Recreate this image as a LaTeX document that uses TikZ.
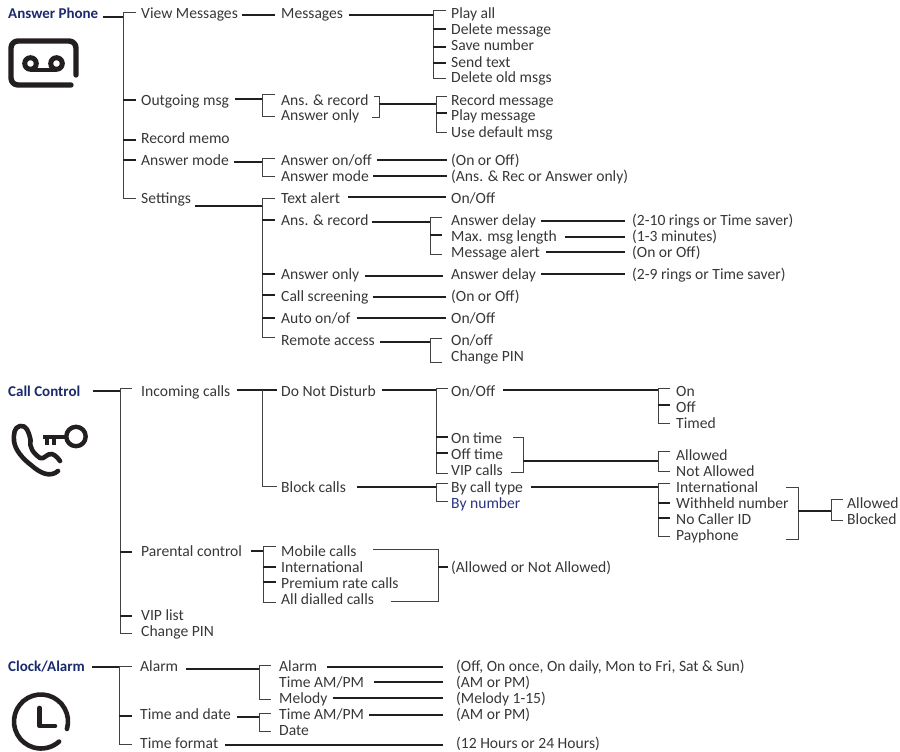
\documentclass[tikz,border=0pt]{standalone}
\usepackage{fontspec}
\setmainfont{Carlito}
\usetikzlibrary{calc}
\definecolor{navy}{HTML}{1B2A6E}
\definecolor{navyb}{HTML}{2B3483}
\definecolor{txt}{HTML}{37373A}
\definecolor{ink}{HTML}{231F20}
\tikzset{
  lbl/.style={anchor=base west,inner sep=0pt,text=txt,font=\fontsize{15.6}{16}\selectfont},
  ttl/.style={lbl,text=navy,font=\fontsize{15}{16}\selectfont\bfseries},
  br/.style={draw=ink,line width=1.5pt},
  tr/.style={draw=ink!85,line width=1pt},
  icon/.style={draw=ink,line width=4.6pt,line cap=round,line join=round}
}
% t: text node
\newcommand\tn[4]{\node[lbl] (#1) at (#2,#3) {#4};}
% line from east of a (gap) to coordinate/trunk c at height y
\newcommand\lnk[4]{\path (#1.east) ++(#2,0) coordinate (tA); \draw[br] (tA |- 0,#4) -- (#3 |- 0,#4);}
% line from east of a to west of b
\newcommand\lnn[5]{\path (#1.east) ++(#2,0) coordinate (tA); \path (#3.west) ++(-#4,0) coordinate (tB); \draw[br] (tA |- 0,#5) -- (tB |- 0,#5);}
% left bracket on trunk t from a to b
\newcommand\brk[6][5]{\path (#3.west) ++(-#1,0) coordinate (tA); \path (#5.west) ++(-#1,0) coordinate (tB); \draw[tr] (tA |- 0,#4) -- (#2 |- 0,#4) -- (#2 |- 0,#6) -- (tB |- 0,#6);}
% thick stub on trunk t to node n
\newcommand\stub[4][5]{\path (#3.west) ++(-#1,0) coordinate (tA); \draw[br] (#2 |- 0,#4) -- (tA |- 0,#4);}
% right bracket on trunk t
\newcommand\rbk[7]{\path (#2.east) ++(#3,0) coordinate (tA); \path (#5.east) ++(#6,0) coordinate (tB); \draw[tr] (tA |- 0,#4) -- (#1 |- 0,#4) -- (#1 |- 0,#7) -- (tB |- 0,#7);}
\begin{document}
\begin{tikzpicture}[x=1pt,y=-1pt]
\useasboundingbox (0,0) rectangle (900,752);
% trunks
\coordinate (a1) at (123,0); \coordinate (a2) at (433,0); \coordinate (a3) at (262,0);
\coordinate (a4) at (379,0); \coordinate (a5) at (436,0); \coordinate (a6) at (430,0);
\coordinate (a7) at (625,0);
\coordinate (c1) at (120,0); \coordinate (c2) at (262,0); \coordinate (c3) at (436,0);
\coordinate (c4) at (658,0); \coordinate (c5) at (523,0); \coordinate (c6) at (798,0);
\coordinate (c7) at (831,0); \coordinate (c8) at (263,0); \coordinate (c9) at (438,0);
\coordinate (d1) at (119,0); \coordinate (d2) at (259,0); \coordinate (d3) at (443,0);
% ---- Answer Phone
\node[ttl] (ap) at (8,19) {Answer Phone};
\tn{vm}{141}{19}{View Messages}
\tn{og}{141}{105}{Outgoing msg}
\tn{rm}{141}{143}{Record memo}
\tn{am}{141}{165}{Answer mode}
\tn{se}{141}{203}{Settings}
\tn{ms}{281}{19}{Messages}
\tn{ar}{281}{105}{Ans. \& record}
\tn{ao}{281}{121}{Answer only}
\tn{aoo}{281}{165}{Answer on/off}
\tn{amm}{281}{181}{Answer mode}
\tn{ta}{281}{203}{Text alert}
\tn{ar2}{281}{225}{Ans. \& record}
\tn{ao2}{281}{279}{Answer only}
\tn{cs}{281}{301}{Call screening}
\tn{au}{281}{323}{Auto on/of}
\tn{ra}{281}{345}{Remote access}
\tn{pa}{451}{19}{Play all}
\tn{dm}{451}{35}{Delete message}
\tn{sn}{451}{51}{Save number}
\tn{st}{451}{67}{Send text}
\tn{do}{451}{83}{Delete old msgs}
\tn{rcm}{451}{105}{Record message}
\tn{plm}{451}{121}{Play message}
\tn{udm}{451}{137}{Use default msg}
\tn{oo1}{451}{165}{(On or Off)}
\tn{arr}{451}{181}{(Ans. \& Rec or Answer only)}
\tn{oo2}{451}{203}{On/Off}
\tn{ad}{451}{225}{Answer delay}
\tn{ml}{451}{241}{Max. msg length}
\tn{mal}{451}{257}{Message alert}
\tn{ad2}{451}{279}{Answer delay}
\tn{oo3}{451}{301}{(On or Off)}
\tn{oo4}{451}{323}{On/Off}
\tn{oo5}{451}{345}{On/off}
\tn{cp}{451}{361}{Change PIN}
\tn{r10}{632}{225}{(2-10 rings or Time saver)}
\tn{r13}{632}{241}{(1-3 minutes)}
\tn{r0}{632}{257}{(On or Off)}
\tn{r9}{632}{279}{(2-9 rings or Time saver)}
% connectors
\lnk{ap}{5}{a1}{17}
\brk{a1}{vm}{13}{se}{198}
\stub{a1}{og}{100} \stub{a1}{rm}{140} \stub{a1}{am}{160}
\lnn{vm}{4}{ms}{6}{15}
\lnk{ms}{6}{a2}{15}
\brk{a2}{pa}{11}{do}{79}
\stub{a2}{dm}{29} \stub{a2}{sn}{47} \stub{a2}{st}{63}
\lnk{og}{6}{a3}{99}
\brk[6]{a3}{ar}{95}{ao}{116}
\rbk{a4}{ar}{5}{97}{ao}{13}{117}
\lnk{a4}{0}{a5}{104}
\brk[4]{a5}{rcm}{97}{udm}{132}
\stub[4]{a5}{plm}{113}
\lnk{am}{5}{a3}{162}
\brk[6]{a3}{aoo}{158}{amm}{176}
\lnn{aoo}{5}{oo1}{4}{160}
\lnn{amm}{4}{arr}{4}{176}
\lnk{se}{4}{a3}{206}
\brk[6]{a3}{ta}{198}{ra}{337}
\stub[6]{a3}{ar2}{220} \stub[6]{a3}{ao2}{274} \stub[6]{a3}{cs}{295} \stub[6]{a3}{au}{318}
\lnn{ta}{8}{oo2}{5}{197}
\lnk{ar2}{3}{a6}{222}
\brk[9]{a6}{ad}{217}{mal}{254}
\stub[9]{a6}{ml}{235}
\lnk{ad}{5}{a7}{221} \lnk{ml}{8}{a7}{237} \lnk{mal}{6}{a7}{252} \lnk{ad2}{5}{a7}{274}
\lnn{ao2}{6}{ad2}{8}{276}
\lnn{cs}{4}{oo3}{5}{297}
\lnn{au}{6}{oo4}{5}{318}
\lnk{ra}{5}{a6}{342}
\brk[9]{a6}{oo5}{338}{cp}{362}
% ---- Call Control
\node[ttl] (cc) at (8,396) {Call Control};
\tn{ic}{141}{396}{Incoming calls}
\tn{pc}{141}{556}{Parental control}
\tn{vl}{141}{620}{VIP list}
\tn{cpn}{141}{636}{Change PIN}
\tn{dnd}{281}{396}{Do Not Disturb}
\tn{bc}{281}{492}{Block calls}
\tn{mc}{281}{556}{Mobile calls}
\tn{il}{281}{572}{International}
\tn{pr}{281}{588}{Premium rate calls}
\tn{ad3}{281}{604}{All dialled calls}
\tn{oo6}{451}{396}{On/Off}
\tn{ot}{451}{443}{On time}
\tn{ft}{451}{459}{Off time}
\tn{vc}{451}{475}{VIP calls}
\tn{bt}{451}{492}{By call type}
\node[lbl,text=navyb] (bn) at (451,508) {By number};
\tn{aa}{451}{572}{(Allowed or Not Allowed)}
\tn{on}{676}{396}{On}
\tn{off}{676}{412}{Off}
\tn{tm}{676}{428}{Timed}
\tn{al1}{676}{460}{Allowed}
\tn{na}{676}{476}{Not Allowed}
\tn{in}{676}{492}{International}
\tn{wh}{676}{508}{Withheld number}
\tn{nc}{676}{524}{No Caller ID}
\tn{ph}{676}{540}{Payphone}
\tn{al2}{847}{508}{Allowed}
\tn{bl}{847}{524}{Blocked}
\lnk{cc}{12}{c1}{391}
\brk[9]{c1}{ic}{388}{cpn}{633}
\stub[9]{c1}{pc}{552} \stub[9]{c1}{vl}{616}
\lnn{ic}{6}{dnd}{4}{390}
\draw[tr] (c2 |- 0,390) -- (c2 |- 0,486);
\path (bc.west) ++(-4,0) coordinate (tA); \draw[tr] (c2 |- 0,486) -- (tA |- 0,486);
\lnk{dnd}{6}{c3}{390}
\brk[3]{c3}{oo6}{388}{vc}{473}
\stub[3]{c3}{ot}{437} \stub[3]{c3}{ft}{453}
\lnk{oo6}{8}{c4}{390}
\brk[6]{c4}{on}{388}{tm}{423}
\stub[6]{c4}{off}{405}
\rbk{c5}{ot}{11}{437}{vc}{8}{472}
\lnk{c5}{0}{c4}{461}
\brk[6]{c4}{al1}{451}{na}{471}
\lnk{bc}{11}{c3}{487}
\brk[3]{c3}{bt}{483}{bn}{501}
\lnk{bt}{8}{c4}{487}
\brk[6]{c4}{in}{483}{ph}{536}
\stub[6]{c4}{wh}{503} \stub[6]{c4}{nc}{518}
\rbk{c6}{in}{28}{487}{ph}{47}{539}
\lnk{c6}{0}{c7}{511}
\brk[4]{c7}{al2}{499}{bl}{520}
\lnk{pc}{9}{c8}{551}
\brk{c8}{mc}{546}{ad3}{602}
\stub{c8}{il}{567} \stub{c8}{pr}{582}
\rbk{c9}{mc}{16}{549}{ad3}{17}{601}
\lnn{c9}{0}{aa}{3}{567}
% ---- Clock/Alarm
\node[ttl] (ca) at (8,671) {Clock/Alarm};
\tn{al}{140}{671}{Alarm}
\tn{td}{140}{719}{Time and date}
\tn{tf}{140}{748}{Time format}
\tn{al3}{279}{671}{Alarm}
\tn{tap}{279}{687}{Time AM/PM}
\tn{mel}{279}{703}{Melody}
\tn{tap2}{279}{719}{Time AM/PM}
\tn{dt}{279}{735}{Date}
\tn{x1}{456}{671}{(Off, On once, On daily, Mon to Fri, Sat \& Sun)}
\tn{x2}{456}{687}{(AM or PM)}
\tn{x3}{456}{703}{(Melody 1-15)}
\tn{x4}{456}{719}{(AM or PM)}
\tn{x5}{456}{748}{(12 Hours or 24 Hours)}
\lnk{ca}{7}{d1}{667}
\brk[8]{d1}{al}{666}{tf}{744}
\stub[8]{d1}{td}{716}
\lnk{al}{8}{d2}{669}
\brk[8]{d2}{al3}{665}{mel}{699}
\lnk{td}{6}{d2}{717}
\brk[8]{d2}{tap2}{713}{dt}{731}
\lnk{al3}{10}{d3}{667} \lnk{tap}{10}{d3}{682} \lnk{mel}{5}{d3}{698} \lnk{tap2}{5}{d3}{715}
\lnk{tf}{7}{d3}{745}
% ---- icons
% cassette
\draw[icon,line width=5.4pt] (76,75) -- (76,48) arc[start angle=0,end angle=-90,radius=7] -- (18,41) arc[start angle=-90,end angle=-180,radius=7] -- (11,78) arc[start angle=180,end angle=90,radius=7] -- (71,85);
\draw[icon,line width=5pt] (30.5,63.5) circle[radius=5.8] (56.5,63.5) circle[radius=5.8];
\draw[icon,line width=4pt,line cap=butt] (30.5,70) -- (56.5,70);
% phone with key
\draw[icon] (30.5,440) .. controls (29,432) and (26,424.5) .. (20,426) .. controls (14,427) and (13.5,435) .. (14,441)
  .. controls (15,450) and (23,459) .. (31,465) .. controls (40,473) and (50,478) .. (58,471);
\draw[icon] (30.5,440) .. controls (29,447) and (33,453) .. (40,458) .. controls (44,460) and (47,453) .. (52,454) .. controls (55,455) and (58,458) .. (60,461);
\draw[icon,line width=4.4pt] (76,436.5) circle[radius=9.7];
\draw[icon,line width=4pt,line cap=butt] (43,436.5) -- (66,436.5);
\draw[icon,line width=3.6pt,line cap=butt] (47,436) -- (47,445) (54,436) -- (54,445);
% clock
\draw[icon] (41,721.5) ++(16:27) arc[start angle=16,end angle=-312,radius=27];
\draw[icon] (39.5,708) -- (39.5,726) -- (55,726);
\end{tikzpicture}
\end{document}
